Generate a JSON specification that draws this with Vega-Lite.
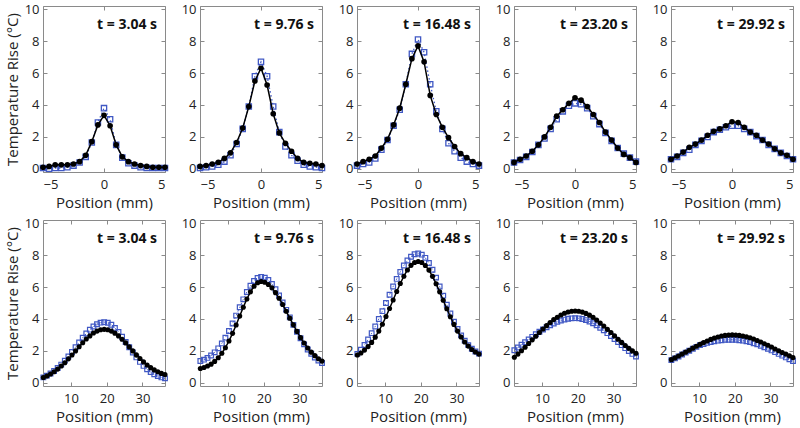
{
"$schema":"https://vega.github.io/schema/vega-lite/v6.json",
"background":"white",
"padding":{"left":4,"top":2,"right":0,"bottom":0},
"config":{
 "font":"Open Sans",
 "view":{"stroke":"#8a8a8a","strokeWidth":1},
 "axis":{"grid":false,"domain":false,"ticks":true,"tickColor":"#8a8a8a","tickSize":-4,"tickWidth":1,"labelFont":"Open Sans","labelFontSize":13,"labelColor":"#222","titleFont":"Open Sans","titleFontSize":15,"titleFontWeight":"normal","titleColor":"#222"},
 "axisX":{"labelPadding":10,"titlePadding":4},
 "axisY":{"labelPadding":8,"titlePadding":4},
 "title":{"anchor":"end","frame":"group","offset":-29,"fontSize":14,"fontWeight":"bold","color":"#111","dx":-8,"font":"Open Sans"}
},
"datasets":{
"top":[
{"t":"3.04","x":-5,"k":0.10,"m":0.05},{"t":"3.04","x":-4.5,"k":0.15,"m":0.0},{"t":"3.04","x":-4,"k":0.25,"m":0.05},{"t":"3.04","x":-3.5,"k":0.25,"m":0.05},{"t":"3.04","x":-3,"k":0.25,"m":0.10},{"t":"3.04","x":-2.5,"k":0.30,"m":0.20},{"t":"3.04","x":-2,"k":0.45,"m":0.40},{"t":"3.04","x":-1.5,"k":0.85,"m":0.75},{"t":"3.04","x":-1,"k":1.70,"m":1.65},{"t":"3.04","x":-0.5,"k":2.75,"m":2.90},{"t":"3.04","x":0,"k":3.35,"m":3.80},{"t":"3.04","x":0.5,"k":2.70,"m":3.10},{"t":"3.04","x":1,"k":1.50,"m":1.50},{"t":"3.04","x":1.5,"k":0.75,"m":0.70},{"t":"3.04","x":2,"k":0.45,"m":0.35},{"t":"3.04","x":2.5,"k":0.30,"m":0.20},{"t":"3.04","x":3,"k":0.20,"m":0.10},{"t":"3.04","x":3.5,"k":0.15,"m":0.05},{"t":"3.04","x":4,"k":0.10,"m":0.05},{"t":"3.04","x":4.5,"k":0.10,"m":0.05},{"t":"3.04","x":5,"k":0.10,"m":0.05},
{"t":"9.76","x":-5,"k":0.15,"m":0.05},{"t":"9.76","x":-4.5,"k":0.20,"m":0.10},{"t":"9.76","x":-4,"k":0.30,"m":0.15},{"t":"9.76","x":-3.5,"k":0.40,"m":0.25},{"t":"9.76","x":-3,"k":0.65,"m":0.45},{"t":"9.76","x":-2.5,"k":1.00,"m":0.85},{"t":"9.76","x":-2,"k":1.65,"m":1.55},{"t":"9.76","x":-1.5,"k":2.55,"m":2.50},{"t":"9.76","x":-1,"k":3.90,"m":3.90},{"t":"9.76","x":-0.5,"k":5.50,"m":5.80},{"t":"9.76","x":0,"k":6.30,"m":6.70},{"t":"9.76","x":0.5,"k":5.25,"m":5.80},{"t":"9.76","x":1,"k":3.45,"m":3.90},{"t":"9.76","x":1.5,"k":2.25,"m":2.30},{"t":"9.76","x":2,"k":1.60,"m":1.40},{"t":"9.76","x":2.5,"k":1.10,"m":0.85},{"t":"9.76","x":3,"k":0.65,"m":0.50},{"t":"9.76","x":3.5,"k":0.40,"m":0.25},{"t":"9.76","x":4,"k":0.35,"m":0.15},{"t":"9.76","x":4.5,"k":0.30,"m":0.10},{"t":"9.76","x":5,"k":0.20,"m":0.05},
{"t":"16.48","x":-5,"k":0.30,"m":0.20},{"t":"16.48","x":-4.5,"k":0.45,"m":0.30},{"t":"16.48","x":-4,"k":0.60,"m":0.40},{"t":"16.48","x":-3.5,"k":0.80,"m":0.65},{"t":"16.48","x":-3,"k":1.30,"m":1.20},{"t":"16.48","x":-2.5,"k":1.85,"m":1.80},{"t":"16.48","x":-2,"k":2.75,"m":2.70},{"t":"16.48","x":-1.5,"k":3.80,"m":3.70},{"t":"16.48","x":-1,"k":5.30,"m":5.30},{"t":"16.48","x":-0.5,"k":6.90,"m":7.20},{"t":"16.48","x":0,"k":7.70,"m":8.10},{"t":"16.48","x":0.5,"k":6.70,"m":7.30},{"t":"16.48","x":1,"k":4.60,"m":5.30},{"t":"16.48","x":1.5,"k":3.40,"m":3.60},{"t":"16.48","x":2,"k":2.60,"m":2.50},{"t":"16.48","x":2.5,"k":1.95,"m":1.60},{"t":"16.48","x":3,"k":1.40,"m":1.10},{"t":"16.48","x":3.5,"k":0.95,"m":0.70},{"t":"16.48","x":4,"k":0.70,"m":0.45},{"t":"16.48","x":4.5,"k":0.45,"m":0.30},{"t":"16.48","x":5,"k":0.30,"m":0.20},
{"t":"23.20","x":-5,"k":0.40,"m":0.40},{"t":"23.20","x":-4.5,"k":0.60,"m":0.55},{"t":"23.20","x":-4,"k":0.80,"m":0.75},{"t":"23.20","x":-3.5,"k":1.10,"m":1.05},{"t":"23.20","x":-3,"k":1.50,"m":1.50},{"t":"23.20","x":-2.5,"k":2.00,"m":1.90},{"t":"23.20","x":-2,"k":2.60,"m":2.50},{"t":"23.20","x":-1.5,"k":3.30,"m":3.10},{"t":"23.20","x":-1,"k":3.70,"m":3.60},{"t":"23.20","x":-0.5,"k":4.10,"m":3.95},{"t":"23.20","x":0,"k":4.45,"m":4.10},{"t":"23.20","x":0.5,"k":4.30,"m":4.05},{"t":"23.20","x":1,"k":3.90,"m":3.80},{"t":"23.20","x":1.5,"k":3.40,"m":3.30},{"t":"23.20","x":2,"k":2.90,"m":2.80},{"t":"23.20","x":2.5,"k":2.30,"m":2.25},{"t":"23.20","x":3,"k":1.80,"m":1.75},{"t":"23.20","x":3.5,"k":1.30,"m":1.30},{"t":"23.20","x":4,"k":0.90,"m":0.95},{"t":"23.20","x":4.5,"k":0.70,"m":0.70},{"t":"23.20","x":5,"k":0.40,"m":0.45},
{"t":"29.92","x":-5,"k":0.60,"m":0.60},{"t":"29.92","x":-4.5,"k":0.80,"m":0.75},{"t":"29.92","x":-4,"k":1.05,"m":1.00},{"t":"29.92","x":-3.5,"k":1.35,"m":1.20},{"t":"29.92","x":-3,"k":1.55,"m":1.50},{"t":"29.92","x":-2.5,"k":1.80,"m":1.75},{"t":"29.92","x":-2,"k":2.10,"m":2.00},{"t":"29.92","x":-1.5,"k":2.35,"m":2.30},{"t":"29.92","x":-1,"k":2.50,"m":2.45},{"t":"29.92","x":-0.5,"k":2.70,"m":2.60},{"t":"29.92","x":0,"k":2.95,"m":2.70},{"t":"29.92","x":0.5,"k":2.90,"m":2.70},{"t":"29.92","x":1,"k":2.60,"m":2.50},{"t":"29.92","x":1.5,"k":2.30,"m":2.30},{"t":"29.92","x":2,"k":2.10,"m":2.05},{"t":"29.92","x":2.5,"k":1.80,"m":1.80},{"t":"29.92","x":3,"k":1.55,"m":1.50},{"t":"29.92","x":3.5,"k":1.25,"m":1.25},{"t":"29.92","x":4,"k":1.00,"m":1.00},{"t":"29.92","x":4.5,"k":0.85,"m":0.80},{"t":"29.92","x":5,"k":0.60,"m":0.60}
],
"bot":[
{"t":"3.04","x":2.3,"k":0.33,"m":0.34},{"t":"3.04","x":3.3,"k":0.43,"m":0.45},{"t":"3.04","x":4.3,"k":0.55,"m":0.58},{"t":"3.04","x":5.3,"k":0.69,"m":0.74},{"t":"3.04","x":6.3,"k":0.86,"m":0.93},{"t":"3.04","x":7.3,"k":1.05,"m":1.14},{"t":"3.04","x":8.3,"k":1.26,"m":1.39},{"t":"3.04","x":9.3,"k":1.50,"m":1.65},{"t":"3.04","x":10.3,"k":1.74,"m":1.93},{"t":"3.04","x":11.3,"k":2.00,"m":2.23},{"t":"3.04","x":12.3,"k":2.26,"m":2.53},{"t":"3.04","x":13.3,"k":2.51,"m":2.82},{"t":"3.04","x":14.3,"k":2.74,"m":3.09},{"t":"3.04","x":15.3,"k":2.94,"m":3.33},{"t":"3.04","x":16.3,"k":3.12,"m":3.53},{"t":"3.04","x":17.3,"k":3.24,"m":3.67},{"t":"3.04","x":18.3,"k":3.32,"m":3.77},{"t":"3.04","x":19.3,"k":3.35,"m":3.80},{"t":"3.04","x":20.3,"k":3.32,"m":3.76},{"t":"3.04","x":21.3,"k":3.24,"m":3.64},{"t":"3.04","x":22.3,"k":3.11,"m":3.44},{"t":"3.04","x":23.3,"k":2.94,"m":3.19},{"t":"3.04","x":24.3,"k":2.73,"m":2.89},{"t":"3.04","x":25.3,"k":2.50,"m":2.56},{"t":"3.04","x":26.3,"k":2.25,"m":2.23},{"t":"3.04","x":27.3,"k":2.00,"m":1.90},{"t":"3.04","x":28.3,"k":1.75,"m":1.59},{"t":"3.04","x":29.3,"k":1.52,"m":1.31},{"t":"3.04","x":30.3,"k":1.31,"m":1.06},{"t":"3.04","x":31.3,"k":1.12,"m":0.85},{"t":"3.04","x":32.3,"k":0.95,"m":0.67},{"t":"3.04","x":33.3,"k":0.81,"m":0.53},{"t":"3.04","x":34.3,"k":0.69,"m":0.42},{"t":"3.04","x":35.3,"k":0.59,"m":0.34},{"t":"3.04","x":36.3,"k":0.52,"m":0.28},
{"t":"9.76","x":2.3,"k":0.90,"m":1.37},{"t":"9.76","x":3.3,"k":0.96,"m":1.45},{"t":"9.76","x":4.3,"k":1.05,"m":1.56},{"t":"9.76","x":5.3,"k":1.17,"m":1.71},{"t":"9.76","x":6.3,"k":1.34,"m":1.91},{"t":"9.76","x":7.3,"k":1.57,"m":2.16},{"t":"9.76","x":8.3,"k":1.85,"m":2.47},{"t":"9.76","x":9.3,"k":2.20,"m":2.83},{"t":"9.76","x":10.3,"k":2.62,"m":3.25},{"t":"9.76","x":11.3,"k":3.10,"m":3.72},{"t":"9.76","x":12.3,"k":3.62,"m":4.21},{"t":"9.76","x":13.3,"k":4.18,"m":4.73},{"t":"9.76","x":14.3,"k":4.73,"m":5.23},{"t":"9.76","x":15.3,"k":5.25,"m":5.69},{"t":"9.76","x":16.3,"k":5.70,"m":6.08},{"t":"9.76","x":17.3,"k":6.05,"m":6.38},{"t":"9.76","x":18.3,"k":6.27,"m":6.57},{"t":"9.76","x":19.3,"k":6.35,"m":6.64},{"t":"9.76","x":20.3,"k":6.30,"m":6.59},{"t":"9.76","x":21.3,"k":6.16,"m":6.44},{"t":"9.76","x":22.3,"k":5.95,"m":6.19},{"t":"9.76","x":23.3,"k":5.65,"m":5.86},{"t":"9.76","x":24.3,"k":5.30,"m":5.47},{"t":"9.76","x":25.3,"k":4.91,"m":5.03},{"t":"9.76","x":26.3,"k":4.48,"m":4.57},{"t":"9.76","x":27.3,"k":4.05,"m":4.10},{"t":"9.76","x":28.3,"k":3.63,"m":3.63},{"t":"9.76","x":29.3,"k":3.22,"m":3.19},{"t":"9.76","x":30.3,"k":2.83,"m":2.79},{"t":"9.76","x":31.3,"k":2.49,"m":2.41},{"t":"9.76","x":32.3,"k":2.18,"m":2.09},{"t":"9.76","x":33.3,"k":1.92,"m":1.82},{"t":"9.76","x":34.3,"k":1.70,"m":1.58},{"t":"9.76","x":35.3,"k":1.51,"m":1.40},{"t":"9.76","x":36.3,"k":1.36,"m":1.24},
{"t":"16.48","x":2.3,"k":1.74,"m":1.81},{"t":"16.48","x":3.3,"k":1.87,"m":2.07},{"t":"16.48","x":4.3,"k":2.05,"m":2.37},{"t":"16.48","x":5.3,"k":2.27,"m":2.72},{"t":"16.48","x":6.3,"k":2.53,"m":3.11},{"t":"16.48","x":7.3,"k":2.86,"m":3.53},{"t":"16.48","x":8.3,"k":3.24,"m":4.00},{"t":"16.48","x":9.3,"k":3.67,"m":4.49},{"t":"16.48","x":10.3,"k":4.15,"m":5.00},{"t":"16.48","x":11.3,"k":4.66,"m":5.52},{"t":"16.48","x":12.3,"k":5.19,"m":6.03},{"t":"16.48","x":13.3,"k":5.72,"m":6.51},{"t":"16.48","x":14.3,"k":6.22,"m":6.95},{"t":"16.48","x":15.3,"k":6.68,"m":7.35},{"t":"16.48","x":16.3,"k":7.07,"m":7.66},{"t":"16.48","x":17.3,"k":7.36,"m":7.90},{"t":"16.48","x":18.3,"k":7.54,"m":8.05},{"t":"16.48","x":19.3,"k":7.60,"m":8.10},{"t":"16.48","x":20.3,"k":7.54,"m":8.03},{"t":"16.48","x":21.3,"k":7.35,"m":7.83},{"t":"16.48","x":22.3,"k":7.06,"m":7.51},{"t":"16.48","x":23.3,"k":6.67,"m":7.08},{"t":"16.48","x":24.3,"k":6.21,"m":6.59},{"t":"16.48","x":25.3,"k":5.70,"m":6.03},{"t":"16.48","x":26.3,"k":5.17,"m":5.46},{"t":"16.48","x":27.3,"k":4.64,"m":4.89},{"t":"16.48","x":28.3,"k":4.14,"m":4.34},{"t":"16.48","x":29.3,"k":3.66,"m":3.83},{"t":"16.48","x":30.3,"k":3.24,"m":3.37},{"t":"16.48","x":31.3,"k":2.87,"m":2.97},{"t":"16.48","x":32.3,"k":2.56,"m":2.64},{"t":"16.48","x":33.3,"k":2.30,"m":2.36},{"t":"16.48","x":34.3,"k":2.09,"m":2.13},{"t":"16.48","x":35.3,"k":1.93,"m":1.96},{"t":"16.48","x":36.3,"k":1.80,"m":1.83},
{"t":"23.20","x":2.3,"k":1.60,"m":2.04},{"t":"23.20","x":3.3,"k":1.80,"m":2.21},{"t":"23.20","x":4.3,"k":2.01,"m":2.38},{"t":"23.20","x":5.3,"k":2.23,"m":2.54},{"t":"23.20","x":6.3,"k":2.46,"m":2.71},{"t":"23.20","x":7.3,"k":2.69,"m":2.88},{"t":"23.20","x":8.3,"k":2.92,"m":3.04},{"t":"23.20","x":9.3,"k":3.15,"m":3.20},{"t":"23.20","x":10.3,"k":3.37,"m":3.34},{"t":"23.20","x":11.3,"k":3.58,"m":3.48},{"t":"23.20","x":12.3,"k":3.78,"m":3.60},{"t":"23.20","x":13.3,"k":3.96,"m":3.72},{"t":"23.20","x":14.3,"k":4.11,"m":3.82},{"t":"23.20","x":15.3,"k":4.25,"m":3.90},{"t":"23.20","x":16.3,"k":4.36,"m":3.96},{"t":"23.20","x":17.3,"k":4.44,"m":4.01},{"t":"23.20","x":18.3,"k":4.48,"m":4.04},{"t":"23.20","x":19.3,"k":4.50,"m":4.05},{"t":"23.20","x":20.3,"k":4.48,"m":4.04},{"t":"23.20","x":21.3,"k":4.43,"m":4.00},{"t":"23.20","x":22.3,"k":4.35,"m":3.93},{"t":"23.20","x":23.3,"k":4.24,"m":3.84},{"t":"23.20","x":24.3,"k":4.10,"m":3.73},{"t":"23.20","x":25.3,"k":3.93,"m":3.60},{"t":"23.20","x":26.3,"k":3.75,"m":3.45},{"t":"23.20","x":27.3,"k":3.56,"m":3.29},{"t":"23.20","x":28.3,"k":3.35,"m":3.11},{"t":"23.20","x":29.3,"k":3.15,"m":2.93},{"t":"23.20","x":30.3,"k":2.94,"m":2.74},{"t":"23.20","x":31.3,"k":2.73,"m":2.55},{"t":"23.20","x":32.3,"k":2.53,"m":2.36},{"t":"23.20","x":33.3,"k":2.34,"m":2.17},{"t":"23.20","x":34.3,"k":2.16,"m":1.99},{"t":"23.20","x":35.3,"k":2.00,"m":1.81},{"t":"23.20","x":36.3,"k":1.85,"m":1.65},
{"t":"29.92","x":2.3,"k":1.45,"m":1.42},{"t":"29.92","x":3.3,"k":1.56,"m":1.53},{"t":"29.92","x":4.3,"k":1.68,"m":1.65},{"t":"29.92","x":5.3,"k":1.80,"m":1.77},{"t":"29.92","x":6.3,"k":1.92,"m":1.89},{"t":"29.92","x":7.3,"k":2.04,"m":2.01},{"t":"29.92","x":8.3,"k":2.17,"m":2.13},{"t":"29.92","x":9.3,"k":2.29,"m":2.25},{"t":"29.92","x":10.3,"k":2.41,"m":2.36},{"t":"29.92","x":11.3,"k":2.52,"m":2.43},{"t":"29.92","x":12.3,"k":2.62,"m":2.50},{"t":"29.92","x":13.3,"k":2.72,"m":2.56},{"t":"29.92","x":14.3,"k":2.80,"m":2.60},{"t":"29.92","x":15.3,"k":2.87,"m":2.64},{"t":"29.92","x":16.3,"k":2.93,"m":2.67},{"t":"29.92","x":17.3,"k":2.97,"m":2.69},{"t":"29.92","x":18.3,"k":2.99,"m":2.70},{"t":"29.92","x":19.3,"k":3.00,"m":2.70},{"t":"29.92","x":20.3,"k":2.99,"m":2.69},{"t":"29.92","x":21.3,"k":2.97,"m":2.67},{"t":"29.92","x":22.3,"k":2.93,"m":2.64},{"t":"29.92","x":23.3,"k":2.88,"m":2.60},{"t":"29.92","x":24.3,"k":2.82,"m":2.55},{"t":"29.92","x":25.3,"k":2.74,"m":2.48},{"t":"29.92","x":26.3,"k":2.65,"m":2.41},{"t":"29.92","x":27.3,"k":2.56,"m":2.32},{"t":"29.92","x":28.3,"k":2.45,"m":2.23},{"t":"29.92","x":29.3,"k":2.35,"m":2.13},{"t":"29.92","x":30.3,"k":2.24,"m":2.03},{"t":"29.92","x":31.3,"k":2.12,"m":1.92},{"t":"29.92","x":32.3,"k":2.01,"m":1.81},{"t":"29.92","x":33.3,"k":1.90,"m":1.70},{"t":"29.92","x":34.3,"k":1.80,"m":1.59},{"t":"29.92","x":35.3,"k":1.69,"m":1.48},{"t":"29.92","x":36.3,"k":1.59,"m":1.37}
]
},
"vconcat":[
{"spacing":9,"hconcat":[
{"width":122,"height":166,"title":"t = 3.04 s","data":{"name":"top"},"transform":[{"filter":"datum.t == '3.04'"},{"fold":["m","k"],"as":["s","v"]}],
 "layer":[
  {"encoding":{"x":{"field":"x","type":"quantitative","scale":{"domain":[-5,5],"nice":false},"axis":{"values":[-5,0,5],"title":"Position (mm)"}},"y":{"field":"v","type":"quantitative","scale":{"domain":[-0.2,10.2],"nice":false},"axis":{"values":[0,2,4,6,8,10],"title":"Temperature Rise (°C)"}}},
   "layer":[
    {"transform":[{"filter":"datum.s == 'm'"}],"mark":{"type":"line","color":"#4058c4","strokeWidth":1.3,"strokeDash":[1.5,2.5]},"encoding":{}},
    {"transform":[{"filter":"datum.s == 'm'"}],"mark":{"type":"point","shape":"square","filled":false,"color":"#4058c4","size":28,"strokeWidth":1.3,"opacity":1},"encoding":{}},
    {"transform":[{"filter":"datum.s == 'k'"}],"mark":{"type":"line","color":"#000","strokeWidth":1.5},"encoding":{}},
    {"transform":[{"filter":"datum.s == 'k'"}],"mark":{"type":"circle","color":"#000","size":32,"opacity":1},"encoding":{}}
   ]},
  {"mark":{"type":"point","opacity":0},"encoding":{"x":{"field":"x","type":"quantitative","scale":{"domain":[-5,5],"nice":false},"axis":{"orient":"top","values":[-5,0,5],"labels":false,"title":null}},"y":{"field":"v","type":"quantitative","scale":{"domain":[-0.2,10.2],"nice":false},"axis":{"orient":"right","values":[0,2,4,6,8,10],"labels":false,"title":null}}}}
 ],
 "resolve":{"axis":{"x":"independent","y":"independent"}}},
{"width":122,"height":166,"title":"t = 9.76 s","data":{"name":"top"},"transform":[{"filter":"datum.t == '9.76'"},{"fold":["m","k"],"as":["s","v"]}],
 "layer":[
  {"encoding":{"x":{"field":"x","type":"quantitative","scale":{"domain":[-5,5],"nice":false},"axis":{"values":[-5,0,5],"title":"Position (mm)"}},"y":{"field":"v","type":"quantitative","scale":{"domain":[-0.2,10.2],"nice":false},"axis":{"values":[0,2,4,6,8,10],"title":null}}},
   "layer":[
    {"transform":[{"filter":"datum.s == 'm'"}],"mark":{"type":"line","color":"#4058c4","strokeWidth":1.3,"strokeDash":[1.5,2.5]},"encoding":{}},
    {"transform":[{"filter":"datum.s == 'm'"}],"mark":{"type":"point","shape":"square","filled":false,"color":"#4058c4","size":28,"strokeWidth":1.3,"opacity":1},"encoding":{}},
    {"transform":[{"filter":"datum.s == 'k'"}],"mark":{"type":"line","color":"#000","strokeWidth":1.5},"encoding":{}},
    {"transform":[{"filter":"datum.s == 'k'"}],"mark":{"type":"circle","color":"#000","size":32,"opacity":1},"encoding":{}}
   ]},
  {"mark":{"type":"point","opacity":0},"encoding":{"x":{"field":"x","type":"quantitative","scale":{"domain":[-5,5],"nice":false},"axis":{"orient":"top","values":[-5,0,5],"labels":false,"title":null}},"y":{"field":"v","type":"quantitative","scale":{"domain":[-0.2,10.2],"nice":false},"axis":{"orient":"right","values":[0,2,4,6,8,10],"labels":false,"title":null}}}}
 ],
 "resolve":{"axis":{"x":"independent","y":"independent"}}},
{"width":122,"height":166,"title":"t = 16.48 s","data":{"name":"top"},"transform":[{"filter":"datum.t == '16.48'"},{"fold":["m","k"],"as":["s","v"]}],
 "layer":[
  {"encoding":{"x":{"field":"x","type":"quantitative","scale":{"domain":[-5,5],"nice":false},"axis":{"values":[-5,0,5],"title":"Position (mm)"}},"y":{"field":"v","type":"quantitative","scale":{"domain":[-0.2,10.2],"nice":false},"axis":{"values":[0,2,4,6,8,10],"title":null}}},
   "layer":[
    {"transform":[{"filter":"datum.s == 'm'"}],"mark":{"type":"line","color":"#4058c4","strokeWidth":1.3,"strokeDash":[1.5,2.5]},"encoding":{}},
    {"transform":[{"filter":"datum.s == 'm'"}],"mark":{"type":"point","shape":"square","filled":false,"color":"#4058c4","size":28,"strokeWidth":1.3,"opacity":1},"encoding":{}},
    {"transform":[{"filter":"datum.s == 'k'"}],"mark":{"type":"line","color":"#000","strokeWidth":1.5},"encoding":{}},
    {"transform":[{"filter":"datum.s == 'k'"}],"mark":{"type":"circle","color":"#000","size":32,"opacity":1},"encoding":{}}
   ]},
  {"mark":{"type":"point","opacity":0},"encoding":{"x":{"field":"x","type":"quantitative","scale":{"domain":[-5,5],"nice":false},"axis":{"orient":"top","values":[-5,0,5],"labels":false,"title":null}},"y":{"field":"v","type":"quantitative","scale":{"domain":[-0.2,10.2],"nice":false},"axis":{"orient":"right","values":[0,2,4,6,8,10],"labels":false,"title":null}}}}
 ],
 "resolve":{"axis":{"x":"independent","y":"independent"}}},
{"width":122,"height":166,"title":"t = 23.20 s","data":{"name":"top"},"transform":[{"filter":"datum.t == '23.20'"},{"fold":["m","k"],"as":["s","v"]}],
 "layer":[
  {"encoding":{"x":{"field":"x","type":"quantitative","scale":{"domain":[-5,5],"nice":false},"axis":{"values":[-5,0,5],"title":"Position (mm)"}},"y":{"field":"v","type":"quantitative","scale":{"domain":[-0.2,10.2],"nice":false},"axis":{"values":[0,2,4,6,8,10],"title":null}}},
   "layer":[
    {"transform":[{"filter":"datum.s == 'm'"}],"mark":{"type":"line","color":"#4058c4","strokeWidth":1.3,"strokeDash":[1.5,2.5]},"encoding":{}},
    {"transform":[{"filter":"datum.s == 'm'"}],"mark":{"type":"point","shape":"square","filled":false,"color":"#4058c4","size":28,"strokeWidth":1.3,"opacity":1},"encoding":{}},
    {"transform":[{"filter":"datum.s == 'k'"}],"mark":{"type":"line","color":"#000","strokeWidth":1.5},"encoding":{}},
    {"transform":[{"filter":"datum.s == 'k'"}],"mark":{"type":"circle","color":"#000","size":32,"opacity":1},"encoding":{}}
   ]},
  {"mark":{"type":"point","opacity":0},"encoding":{"x":{"field":"x","type":"quantitative","scale":{"domain":[-5,5],"nice":false},"axis":{"orient":"top","values":[-5,0,5],"labels":false,"title":null}},"y":{"field":"v","type":"quantitative","scale":{"domain":[-0.2,10.2],"nice":false},"axis":{"orient":"right","values":[0,2,4,6,8,10],"labels":false,"title":null}}}}
 ],
 "resolve":{"axis":{"x":"independent","y":"independent"}}},
{"width":122,"height":166,"title":"t = 29.92 s","data":{"name":"top"},"transform":[{"filter":"datum.t == '29.92'"},{"fold":["m","k"],"as":["s","v"]}],
 "layer":[
  {"encoding":{"x":{"field":"x","type":"quantitative","scale":{"domain":[-5,5],"nice":false},"axis":{"values":[-5,0,5],"title":"Position (mm)"}},"y":{"field":"v","type":"quantitative","scale":{"domain":[-0.2,10.2],"nice":false},"axis":{"values":[0,2,4,6,8,10],"title":null}}},
   "layer":[
    {"transform":[{"filter":"datum.s == 'm'"}],"mark":{"type":"line","color":"#4058c4","strokeWidth":1.3,"strokeDash":[1.5,2.5]},"encoding":{}},
    {"transform":[{"filter":"datum.s == 'm'"}],"mark":{"type":"point","shape":"square","filled":false,"color":"#4058c4","size":28,"strokeWidth":1.3,"opacity":1},"encoding":{}},
    {"transform":[{"filter":"datum.s == 'k'"}],"mark":{"type":"line","color":"#000","strokeWidth":1.5},"encoding":{}},
    {"transform":[{"filter":"datum.s == 'k'"}],"mark":{"type":"circle","color":"#000","size":32,"opacity":1},"encoding":{}}
   ]},
  {"mark":{"type":"point","opacity":0},"encoding":{"x":{"field":"x","type":"quantitative","scale":{"domain":[-5,5],"nice":false},"axis":{"orient":"top","values":[-5,0,5],"labels":false,"title":null}},"y":{"field":"v","type":"quantitative","scale":{"domain":[-0.2,10.2],"nice":false},"axis":{"orient":"right","values":[0,2,4,6,8,10],"labels":false,"title":null}}}}
 ],
 "resolve":{"axis":{"x":"independent","y":"independent"}}}
]},
{"spacing":9,"hconcat":[
{"width":122,"height":166,"title":"t = 3.04 s","data":{"name":"bot"},"transform":[{"filter":"datum.t == '3.04'"},{"fold":["m","k"],"as":["s","v"]}],
 "layer":[
  {"encoding":{"x":{"field":"x","type":"quantitative","scale":{"domain":[2.2,36.3],"nice":false},"axis":{"values":[10,20,30],"title":"Position (mm)"}},"y":{"field":"v","type":"quantitative","scale":{"domain":[-0.2,10.2],"nice":false},"axis":{"values":[0,2,4,6,8,10],"title":"Temperature Rise (°C)"}}},
   "layer":[
    {"transform":[{"filter":"datum.s == 'm'"}],"mark":{"type":"line","color":"#4058c4","strokeWidth":1,"strokeDash":[1.5,2.5]},"encoding":{}},
    {"transform":[{"filter":"datum.s == 'm'"}],"mark":{"type":"point","shape":"square","filled":false,"color":"#4058c4","size":22,"strokeWidth":1.2,"opacity":1},"encoding":{}},
    {"transform":[{"filter":"datum.s == 'k'"}],"mark":{"type":"line","color":"#000","strokeWidth":1.5},"encoding":{}},
    {"transform":[{"filter":"datum.s == 'k'"}],"mark":{"type":"circle","color":"#000","size":26,"opacity":1},"encoding":{}}
   ]},
  {"mark":{"type":"point","opacity":0},"encoding":{"x":{"field":"x","type":"quantitative","scale":{"domain":[2.2,36.3],"nice":false},"axis":{"orient":"top","values":[10,20,30],"labels":false,"title":null}},"y":{"field":"v","type":"quantitative","scale":{"domain":[-0.2,10.2],"nice":false},"axis":{"orient":"right","values":[0,2,4,6,8,10],"labels":false,"title":null}}}}
 ],
 "resolve":{"axis":{"x":"independent","y":"independent"}}},
{"width":122,"height":166,"title":"t = 9.76 s","data":{"name":"bot"},"transform":[{"filter":"datum.t == '9.76'"},{"fold":["m","k"],"as":["s","v"]}],
 "layer":[
  {"encoding":{"x":{"field":"x","type":"quantitative","scale":{"domain":[2.2,36.3],"nice":false},"axis":{"values":[10,20,30],"title":"Position (mm)"}},"y":{"field":"v","type":"quantitative","scale":{"domain":[-0.2,10.2],"nice":false},"axis":{"values":[0,2,4,6,8,10],"title":null}}},
   "layer":[
    {"transform":[{"filter":"datum.s == 'm'"}],"mark":{"type":"line","color":"#4058c4","strokeWidth":1,"strokeDash":[1.5,2.5]},"encoding":{}},
    {"transform":[{"filter":"datum.s == 'm'"}],"mark":{"type":"point","shape":"square","filled":false,"color":"#4058c4","size":22,"strokeWidth":1.2,"opacity":1},"encoding":{}},
    {"transform":[{"filter":"datum.s == 'k'"}],"mark":{"type":"line","color":"#000","strokeWidth":1.5},"encoding":{}},
    {"transform":[{"filter":"datum.s == 'k'"}],"mark":{"type":"circle","color":"#000","size":26,"opacity":1},"encoding":{}}
   ]},
  {"mark":{"type":"point","opacity":0},"encoding":{"x":{"field":"x","type":"quantitative","scale":{"domain":[2.2,36.3],"nice":false},"axis":{"orient":"top","values":[10,20,30],"labels":false,"title":null}},"y":{"field":"v","type":"quantitative","scale":{"domain":[-0.2,10.2],"nice":false},"axis":{"orient":"right","values":[0,2,4,6,8,10],"labels":false,"title":null}}}}
 ],
 "resolve":{"axis":{"x":"independent","y":"independent"}}},
{"width":122,"height":166,"title":"t = 16.48 s","data":{"name":"bot"},"transform":[{"filter":"datum.t == '16.48'"},{"fold":["m","k"],"as":["s","v"]}],
 "layer":[
  {"encoding":{"x":{"field":"x","type":"quantitative","scale":{"domain":[2.2,36.3],"nice":false},"axis":{"values":[10,20,30],"title":"Position (mm)"}},"y":{"field":"v","type":"quantitative","scale":{"domain":[-0.2,10.2],"nice":false},"axis":{"values":[0,2,4,6,8,10],"title":null}}},
   "layer":[
    {"transform":[{"filter":"datum.s == 'm'"}],"mark":{"type":"line","color":"#4058c4","strokeWidth":1,"strokeDash":[1.5,2.5]},"encoding":{}},
    {"transform":[{"filter":"datum.s == 'm'"}],"mark":{"type":"point","shape":"square","filled":false,"color":"#4058c4","size":22,"strokeWidth":1.2,"opacity":1},"encoding":{}},
    {"transform":[{"filter":"datum.s == 'k'"}],"mark":{"type":"line","color":"#000","strokeWidth":1.5},"encoding":{}},
    {"transform":[{"filter":"datum.s == 'k'"}],"mark":{"type":"circle","color":"#000","size":26,"opacity":1},"encoding":{}}
   ]},
  {"mark":{"type":"point","opacity":0},"encoding":{"x":{"field":"x","type":"quantitative","scale":{"domain":[2.2,36.3],"nice":false},"axis":{"orient":"top","values":[10,20,30],"labels":false,"title":null}},"y":{"field":"v","type":"quantitative","scale":{"domain":[-0.2,10.2],"nice":false},"axis":{"orient":"right","values":[0,2,4,6,8,10],"labels":false,"title":null}}}}
 ],
 "resolve":{"axis":{"x":"independent","y":"independent"}}},
{"width":122,"height":166,"title":"t = 23.20 s","data":{"name":"bot"},"transform":[{"filter":"datum.t == '23.20'"},{"fold":["m","k"],"as":["s","v"]}],
 "layer":[
  {"encoding":{"x":{"field":"x","type":"quantitative","scale":{"domain":[2.2,36.3],"nice":false},"axis":{"values":[10,20,30],"title":"Position (mm)"}},"y":{"field":"v","type":"quantitative","scale":{"domain":[-0.2,10.2],"nice":false},"axis":{"values":[0,2,4,6,8,10],"title":null}}},
   "layer":[
    {"transform":[{"filter":"datum.s == 'm'"}],"mark":{"type":"line","color":"#4058c4","strokeWidth":1,"strokeDash":[1.5,2.5]},"encoding":{}},
    {"transform":[{"filter":"datum.s == 'm'"}],"mark":{"type":"point","shape":"square","filled":false,"color":"#4058c4","size":22,"strokeWidth":1.2,"opacity":1},"encoding":{}},
    {"transform":[{"filter":"datum.s == 'k'"}],"mark":{"type":"line","color":"#000","strokeWidth":1.5},"encoding":{}},
    {"transform":[{"filter":"datum.s == 'k'"}],"mark":{"type":"circle","color":"#000","size":26,"opacity":1},"encoding":{}}
   ]},
  {"mark":{"type":"point","opacity":0},"encoding":{"x":{"field":"x","type":"quantitative","scale":{"domain":[2.2,36.3],"nice":false},"axis":{"orient":"top","values":[10,20,30],"labels":false,"title":null}},"y":{"field":"v","type":"quantitative","scale":{"domain":[-0.2,10.2],"nice":false},"axis":{"orient":"right","values":[0,2,4,6,8,10],"labels":false,"title":null}}}}
 ],
 "resolve":{"axis":{"x":"independent","y":"independent"}}},
{"width":122,"height":166,"title":"t = 29.92 s","data":{"name":"bot"},"transform":[{"filter":"datum.t == '29.92'"},{"fold":["m","k"],"as":["s","v"]}],
 "layer":[
  {"encoding":{"x":{"field":"x","type":"quantitative","scale":{"domain":[2.2,36.3],"nice":false},"axis":{"values":[10,20,30],"title":"Position (mm)"}},"y":{"field":"v","type":"quantitative","scale":{"domain":[-0.2,10.2],"nice":false},"axis":{"values":[0,2,4,6,8,10],"title":null}}},
   "layer":[
    {"transform":[{"filter":"datum.s == 'm'"}],"mark":{"type":"line","color":"#4058c4","strokeWidth":1,"strokeDash":[1.5,2.5]},"encoding":{}},
    {"transform":[{"filter":"datum.s == 'm'"}],"mark":{"type":"point","shape":"square","filled":false,"color":"#4058c4","size":22,"strokeWidth":1.2,"opacity":1},"encoding":{}},
    {"transform":[{"filter":"datum.s == 'k'"}],"mark":{"type":"line","color":"#000","strokeWidth":1.5},"encoding":{}},
    {"transform":[{"filter":"datum.s == 'k'"}],"mark":{"type":"circle","color":"#000","size":26,"opacity":1},"encoding":{}}
   ]},
  {"mark":{"type":"point","opacity":0},"encoding":{"x":{"field":"x","type":"quantitative","scale":{"domain":[2.2,36.3],"nice":false},"axis":{"orient":"top","values":[10,20,30],"labels":false,"title":null}},"y":{"field":"v","type":"quantitative","scale":{"domain":[-0.2,10.2],"nice":false},"axis":{"orient":"right","values":[0,2,4,6,8,10],"labels":false,"title":null}}}}
 ],
 "resolve":{"axis":{"x":"independent","y":"independent"}}}
]}
],
"spacing":5
}
